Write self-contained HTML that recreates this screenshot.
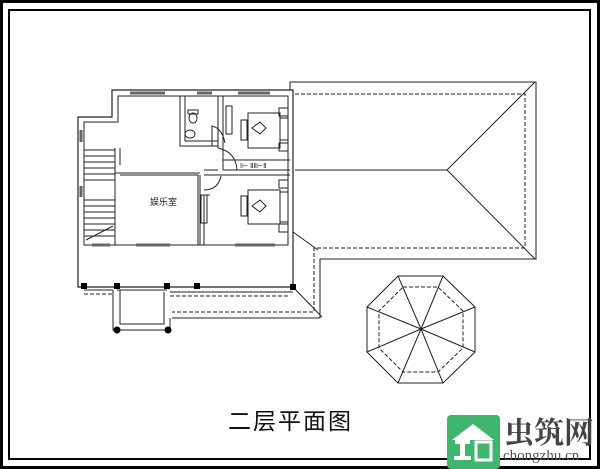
<!DOCTYPE html>
<html><head><meta charset="utf-8"><style>
body{margin:0;background:#fff;}
svg{display:block;}
</style></head><body>
<svg width="600" height="469" viewBox="0 0 600 469" xmlns="http://www.w3.org/2000/svg">
<rect x="1.5" y="1.5" width="597" height="466" fill="#fff" stroke="#000" stroke-width="3"/>
<rect x="9" y="10" width="581" height="449" fill="none" stroke="#000" stroke-width="2"/>
<g fill="none" stroke="#222" stroke-width="1">
<!-- roof -->
<path d="M290 90 V82 H536 V259 H320 V318 H172"/>
<path d="M295 94 H525 V248 H314 V312 H172" stroke-dasharray="4,2"/>
<path d="M295 170 H447 L535 82 M447 170 L535 259 M293 232 L318 250 M293 287 L322 317"/>
<!-- octagon -->
<polygon points="398,276 443,276 475,307 475,352 443,383 398,383 367,352 367,307"/>
<polygon points="403,287 438,287 463,311 463,348 438,372 403,372 379,348 379,311" stroke-dasharray="4,2"/>
<path d="M421 329 L398 276 M421 329 L443 276 M421 329 L475 307 M421 329 L475 352 M421 329 L443 383 M421 329 L398 383 M421 329 L367 352 M421 329 L367 307"/>
<!-- house outer walls -->
<path d="M112 90 H293 V287 H78 V117 H112 Z" stroke-width="1.2"/>
<path d="M118 96 H288 V245 H84 V122 H118 Z"/>
<!-- windows -->
<g stroke="#666" stroke-width="3">
<path d="M130 93 H165 M197 93 H212 M238 93 H270 M81 130 V142 M81 186 V197 M92 245 H110 M136 245 H170 M235 245 H275"/>
</g>
<!-- interior walls -->
<path d="M180 96 V146 H218 M185 96 V141 H218 M218 96 V148 M223 96 V160 H290 M223 170 H290 M223 160 V170"/>
<path d="M115 148 V245 M120 148 V165 M120 175 H198 V245 M115 173 H200 M200 175 V245 M204 195 V245 M204 195 H210"/>
<path d="M204 175 H290 M204 170 H218"/>
<!-- doors -->
<path d="M218 148 Q236 152 237 170 M204 190 Q218 190 221 176 M212 146 V126 Q222 128 225 143"/>
<!-- stairs -->
<path d="M84 150 H115 M84 156 H115 M84 162 H115 M84 168 H115 M84 174 H115 M84 180 H115 M84 200 H115 M84 206 H115 M84 212 H115 M84 218 H115 M84 224 H115 M84 230 H115 M84 236 H115 M86 240 L113 226"/>
<!-- bathroom fixtures -->
<ellipse cx="193" cy="118" rx="4" ry="5"/><rect x="188" y="110" width="10" height="4"/>
<ellipse cx="190" cy="134" rx="5" ry="4"/>
<!-- bedrooms -->
<rect x="248" y="113" width="32" height="35"/><rect x="241" y="120" width="6" height="20"/>
<rect x="279" y="108" width="9" height="8"/><rect x="279" y="143" width="9" height="8"/><rect x="280" y="118" width="8" height="22"/>
<rect x="248" y="190" width="32" height="34"/><rect x="241" y="196" width="6" height="20"/>
<rect x="279" y="180" width="9" height="8"/><rect x="279" y="224" width="9" height="8"/><rect x="280" y="192" width="8" height="30"/>
<rect x="201" y="195" width="6" height="28"/><rect x="226" y="106" width="6" height="28"/>
<path d="M252 128 l8 -6 l6 6 l-6 6 z M252 206 l8 -6 l6 6 l-6 6 z"/>
<text x="240" y="168" font-size="7" stroke="none" fill="#222" font-family="Liberation Sans">Ⅰ⊢ ⅡⅡ⊢Ⅱ</text>
<!-- terrace / portico -->
<path d="M113 290 V330 H170 V318 M120 290 V324 H164 V292 M84 290 H113 M117 290 H167 M170 292 H293"/>
<path d="M84 294 H113 M170 296 H290" stroke-dasharray="4,2"/>
</g>
<g fill="#000">
<rect x="81" y="283" width="6" height="6"/><rect x="114" y="283" width="6" height="6"/><rect x="164" y="283" width="6" height="6"/><rect x="194" y="283" width="6" height="6"/><rect x="290" y="284" width="6" height="6"/>
<circle cx="117" cy="330" r="3.5"/><circle cx="168" cy="330" r="3.5"/>
</g>
<text x="150" y="205" font-size="9" font-family="Liberation Sans, Noto Sans CJK SC, sans-serif" fill="#222">娱乐室</text>
<text x="228" y="429" font-size="23" font-family="Liberation Sans, Noto Sans CJK SC, sans-serif" fill="#111" letter-spacing="2">二层平面图</text>
<!-- logo -->
<rect x="447" y="415" width="53" height="54" rx="4" fill="#3fb56f"/>
<path d="M452 440 L473 424 L494 440 Z" fill="#fff"/>
<rect x="455" y="440" width="15" height="4" fill="#fff"/><rect x="460" y="444" width="5" height="14" fill="#fff"/><rect x="454" y="456" width="17" height="4" fill="#fff"/>
<rect x="476" y="442" width="15" height="18" fill="none" stroke="#fff" stroke-width="3"/>
<text x="504" y="443" font-size="30" font-weight="bold" font-family="Liberation Serif, Noto Serif CJK SC, serif" fill="#444">虫筑网</text>
<text x="503" y="460" font-size="15" font-family="Liberation Serif, serif" fill="#555">chongzhu.cn</text>
</svg>
</body></html>
